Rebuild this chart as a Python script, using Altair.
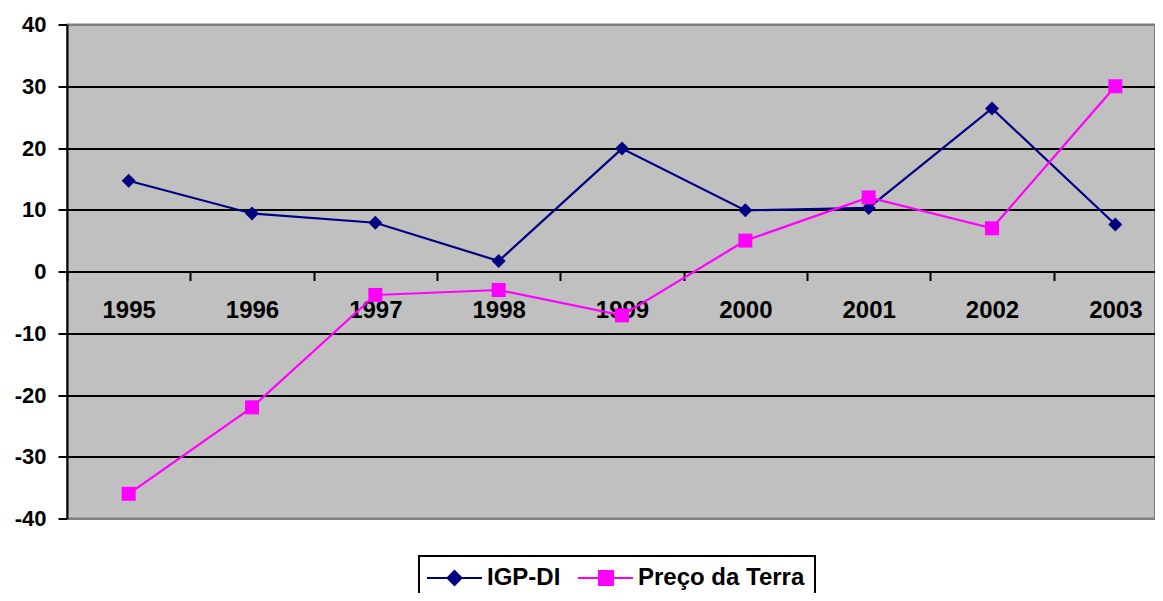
import altair as alt
import pandas as pd

# ---- data ----
anos = ["1995", "1996", "1997", "1998", "1999", "2000", "2001", "2002", "2003"]
igp_di = [14.7, 9.4, 7.9, 1.7, 19.9, 9.9, 10.3, 26.4, 7.6]
preco_terra = [-36.0, -22.0, -3.8, -3.0, -7.1, 5.0, 12.0, 7.0, 30.0]
series = ["IGP-DI", "Preço da Terra"]
cores = ["#000080", "#FF00FF"]
marcadores = ["diamond", "square"]
y_ticks = [-40, -30, -20, -10, 0, 10, 20, 30, 40]

# legend symbols: line segment + marker (custom paths in unit space)
legend_paths = [
    "M-1.4,0H4.1M1.35,-0.7L2.05,0L1.35,0.7L0.65,0Z",
    "M-1.4,0H4.1M0.7,-0.7H2.1V0.7H0.7Z",
]

df = pd.DataFrame({
    "Ano": anos * 2,
    "Valor": igp_di + preco_terra,
    "Serie": [series[0]] * len(anos) + [series[1]] * len(anos),
})

FONT = "Liberation Sans"
W, H = 1088, 494

x_enc = alt.X(
    "Ano:N",
    sort=anos,
    title=None,
    scale=alt.Scale(type="band", domain=anos, range=[0, 1110], paddingInner=0, paddingOuter=0),
    axis=alt.Axis(
        orient="bottom", offset=-H / 2, domainColor="black", domainWidth=2,
        tickBand="extent", tickColor="black", tickWidth=2, tickSize=9,
        labelFont=FONT, labelFontSize=24, labelFontWeight="bold", labelColor="black",
        labelPadding=18, labelAngle=0, grid=False,
    ),
)
y_enc = alt.Y(
    "Valor:Q",
    title=None,
    scale=alt.Scale(domain=[-40, 40], nice=False, zero=False),
    axis=alt.Axis(
        values=y_ticks, domainColor="black", domainWidth=2,
        tickColor="black", tickWidth=2, tickSize=9,
        labelFont=FONT, labelFontSize=22, labelFontWeight="bold", labelColor="black",
        labelPadding=12, labelExpr="toString(datum.value)",
        grid=True, gridWidth=2,
        gridColor={"condition": {"test": "abs(datum.value) == 40", "value": "#808080"}, "value": "black"},
    ),
)

base = alt.Chart(df)
layers = []
for i, s in enumerate(series):
    sub = base.transform_filter(alt.datum.Serie == s)
    layers.append(sub.mark_line(color=cores[i], strokeWidth=2.2).encode(x=x_enc, y=y_enc))
    layers.append(
        sub.mark_point(shape=marcadores[i], filled=True, color=cores[i], size=196, opacity=1)
        .encode(x=x_enc, y=y_enc)
    )

legend_layer = base.transform_filter("false").mark_point(filled=True, strokeWidth=2, opacity=1).encode(
    x=x_enc,
    y=y_enc,
    color=alt.Color(
        "Serie:N",
        scale=alt.Scale(domain=series, range=cores),
        legend=alt.Legend(
            title=None, orient="none", legendX=352, legendY=531.5, direction="horizontal",
            labelFont=FONT, labelFontSize=24, labelFontWeight="bold", labelColor="black",
            labelOffset=34, labelLimit=400, columnPadding=13, padding=10,
            symbolSize=400, symbolStrokeWidth=2, symbolOpacity=1,
            strokeColor="black", fillColor="white",
        ),
    ),
    stroke=alt.Stroke("Serie:N", scale=alt.Scale(domain=series, range=cores)),
    shape=alt.Shape("Serie:N", scale=alt.Scale(domain=series, range=legend_paths)),
)

chart = (
    alt.layer(*layers, legend_layer)
    .properties(
        width=W, height=H,
        autosize=alt.AutoSizeParams(type="none"),
        padding={"left": 59, "top": 16.5, "right": 0, "bottom": 74.5},
        background="white",
    )
    .configure_view(fill="#C0C0C0", stroke="#808080", strokeWidth=2)
    .configure_legend(strokeWidth=2)
)

chart.save("out.html", embed_options={"renderer": "svg", "actions": False})
